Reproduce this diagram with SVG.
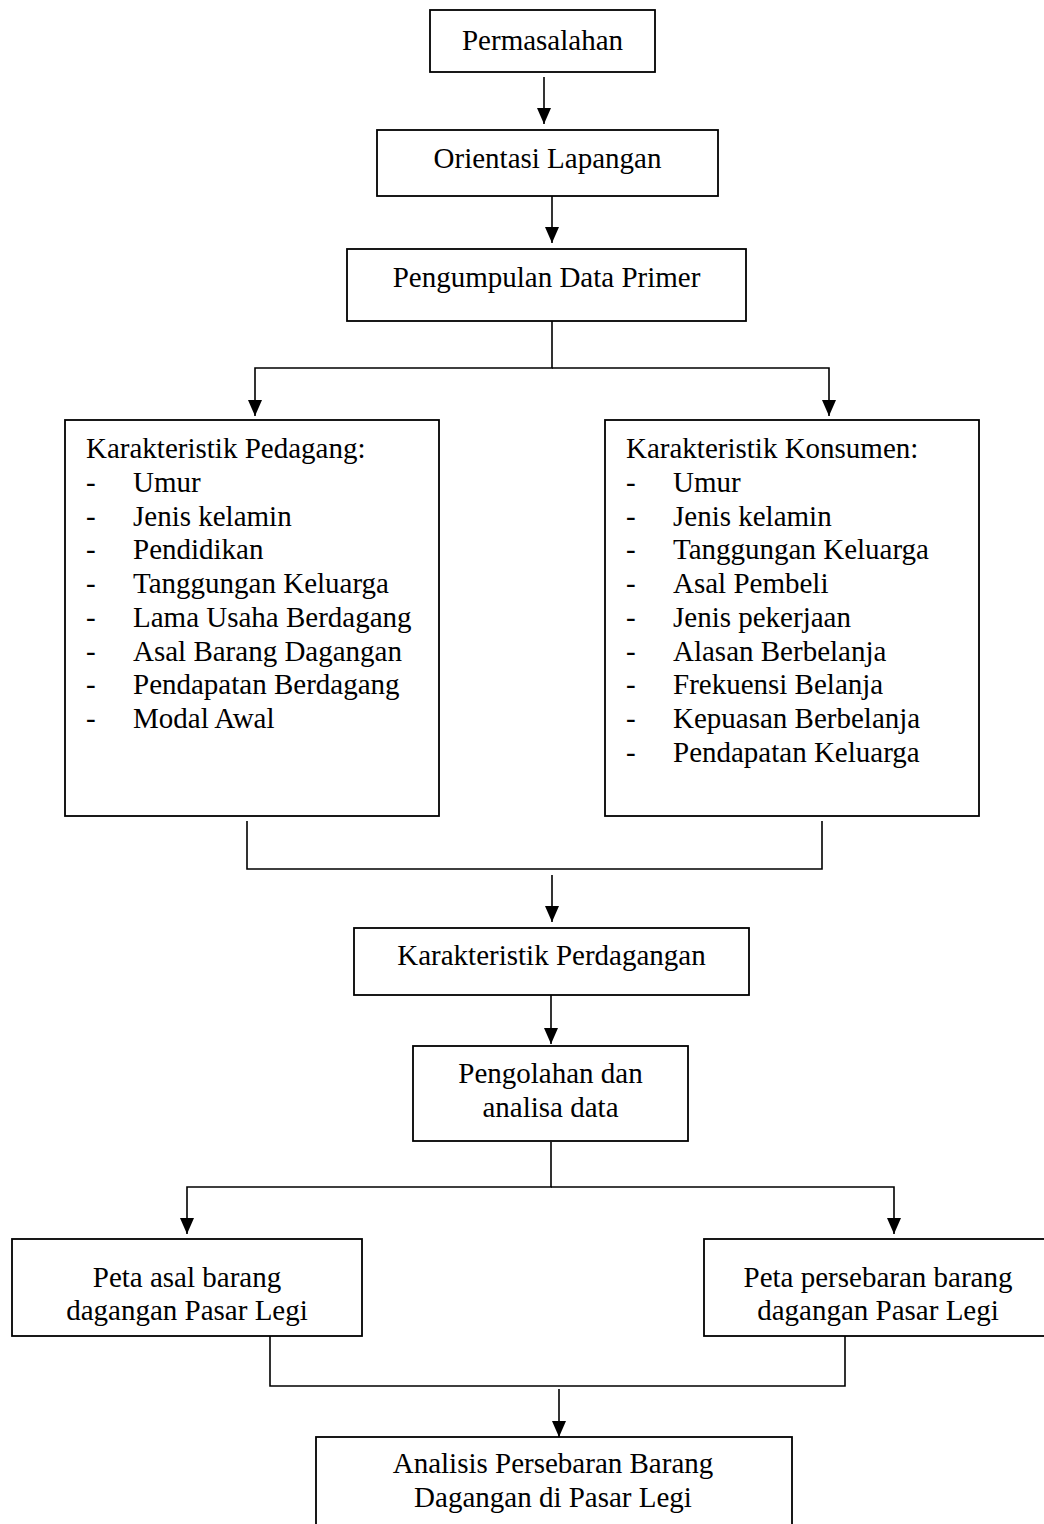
<svg xmlns="http://www.w3.org/2000/svg" width="1044" height="1524" viewBox="0 0 1044 1524">
<style>
.box{fill:#fff;stroke:#000;stroke-width:1.8}
.t{font-family:"Liberation Serif","Times New Roman",serif;font-size:29px;fill:#000}
.c{text-anchor:middle}
.ln{fill:none;stroke:#000;stroke-width:1.6}
</style>
<defs>
<marker id="ah" viewBox="0 0 16 14" refX="16" refY="7" markerWidth="16" markerHeight="14" markerUnits="userSpaceOnUse" orient="auto">
<path d="M0,0 L16,7 L0,14 z" fill="#000"/>
</marker>
</defs>
<rect width="1044" height="1524" fill="#fff"/>
<g id="connectors">
<path class="ln" d="M544,77 V124" marker-end="url(#ah)"/>
<path class="ln" d="M552,196 V243" marker-end="url(#ah)"/>
<path class="ln" d="M552,321 V368 H255 V416" marker-end="url(#ah)"/>
<path class="ln" d="M552,368 H829 V416" marker-end="url(#ah)"/>
<path class="ln" d="M247,821 V869 H822 V821"/>
<path class="ln" d="M552,875 V922" marker-end="url(#ah)"/>
<path class="ln" d="M551,995 V1044" marker-end="url(#ah)"/>
<path class="ln" d="M551,1142 V1187 H187 V1234" marker-end="url(#ah)"/>
<path class="ln" d="M551,1187 H894 V1234" marker-end="url(#ah)"/>
<path class="ln" d="M270,1336 V1386 H845 V1336"/>
<path class="ln" d="M559,1389 V1437" marker-end="url(#ah)"/>
</g>
<g id="permasalahan">
<rect class="box" x="430" y="10" width="225" height="62"/>
<text class="t c" x="542.5" y="50">Permasalahan</text>
</g>
<g id="orientasi">
<rect class="box" x="377" y="130" width="341" height="66"/>
<text class="t c" x="547.5" y="168">Orientasi Lapangan</text>
</g>
<g id="pengumpulan">
<rect class="box" x="347" y="249" width="399" height="72"/>
<text class="t c" x="546.5" y="287">Pengumpulan Data Primer</text>
</g>
<g id="pedagang">
<rect class="box" x="65" y="420" width="374" height="396"/>
<text class="t" x="86" y="458">Karakteristik Pedagang:</text>
<text class="t" x="86" y="491.75">-</text><text class="t" x="133" y="491.75">Umur</text>
<text class="t" x="86" y="525.5">-</text><text class="t" x="133" y="525.5">Jenis kelamin</text>
<text class="t" x="86" y="559.25">-</text><text class="t" x="133" y="559.25">Pendidikan</text>
<text class="t" x="86" y="593">-</text><text class="t" x="133" y="593">Tanggungan Keluarga</text>
<text class="t" x="86" y="626.75">-</text><text class="t" x="133" y="626.75">Lama Usaha Berdagang</text>
<text class="t" x="86" y="660.5">-</text><text class="t" x="133" y="660.5">Asal Barang Dagangan</text>
<text class="t" x="86" y="694.25">-</text><text class="t" x="133" y="694.25">Pendapatan Berdagang</text>
<text class="t" x="86" y="728">-</text><text class="t" x="133" y="728">Modal Awal</text>
</g>
<g id="konsumen">
<rect class="box" x="605" y="420" width="374" height="396"/>
<text class="t" x="626" y="458">Karakteristik Konsumen:</text>
<text class="t" x="626" y="491.75">-</text><text class="t" x="673" y="491.75">Umur</text>
<text class="t" x="626" y="525.5">-</text><text class="t" x="673" y="525.5">Jenis kelamin</text>
<text class="t" x="626" y="559.25">-</text><text class="t" x="673" y="559.25">Tanggungan Keluarga</text>
<text class="t" x="626" y="593">-</text><text class="t" x="673" y="593">Asal Pembeli</text>
<text class="t" x="626" y="626.75">-</text><text class="t" x="673" y="626.75">Jenis pekerjaan</text>
<text class="t" x="626" y="660.5">-</text><text class="t" x="673" y="660.5">Alasan Berbelanja</text>
<text class="t" x="626" y="694.25">-</text><text class="t" x="673" y="694.25">Frekuensi Belanja</text>
<text class="t" x="626" y="728">-</text><text class="t" x="673" y="728">Kepuasan Berbelanja</text>
<text class="t" x="626" y="761.75">-</text><text class="t" x="673" y="761.75">Pendapatan Keluarga</text>
</g>
<g id="perdagangan">
<rect class="box" x="354" y="928" width="395" height="67"/>
<text class="t c" x="551.5" y="965">Karakteristik Perdagangan</text>
</g>
<g id="pengolahan">
<rect class="box" x="413" y="1046" width="275" height="95"/>
<text class="t c" x="550.5" y="1083">Pengolahan dan</text>
<text class="t c" x="550.5" y="1117">analisa data</text>
</g>
<g id="peta-asal">
<rect class="box" x="12" y="1239" width="350" height="97"/>
<text class="t c" x="187" y="1287">Peta asal barang</text>
<text class="t c" x="187" y="1320">dagangan Pasar Legi</text>
</g>
<g id="peta-persebaran">
<rect class="box" x="704" y="1239" width="350" height="97"/>
<text class="t c" x="878" y="1287">Peta persebaran barang</text>
<text class="t c" x="878" y="1320">dagangan Pasar Legi</text>
</g>
<g id="analisis">
<rect class="box" x="316" y="1437" width="476" height="110"/>
<text class="t c" x="553" y="1473">Analisis Persebaran Barang</text>
<text class="t c" x="553" y="1507">Dagangan di Pasar Legi</text>
</g>
</svg>
